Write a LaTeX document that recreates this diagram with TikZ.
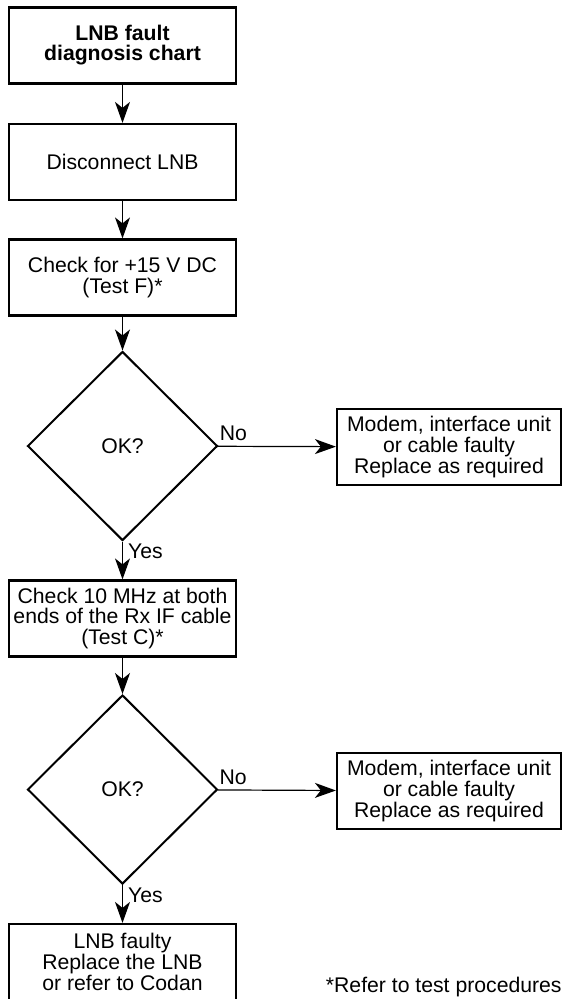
\documentclass[tikz,border=0pt]{standalone}
\usepackage{fontspec}
\setmainfont{Liberation Sans}
\usetikzlibrary{shapes.geometric}
\usetikzlibrary{arrows.meta}

\begin{document}
\begin{tikzpicture}[x=.5pt, y=-.5pt,
        font=\fontsize{10.6}{10.4}\selectfont,
        box/.style={draw, line width=1.1pt, minimum width=113.5pt, minimum height=38pt, align=center, inner sep=0pt},
        sidebox/.style={box, minimum width=112pt},
        query/.style={draw, diamond, line width=1pt, minimum width=95pt, minimum height=94.5pt, inner sep=0pt},
        flow/.style={-{Stealth[length=10.5pt, width=7.5pt, inset=3pt]}, line width=.6pt},
        yestag/.style={anchor=north west, inner xsep=2.5pt, inner ysep=1pt},
        notag/.style={anchor=south west, inner xsep=.5pt, inner ysep=2.5pt}]
    \useasboundingbox (0,0) rectangle (563,999);
    \node[box, font={\fontsize{10.6}{10}\selectfont\bfseries}] (title) at (122.5,45.5) {LNB fault\\diagnosis chart};
    \node[box] (unplug) at (122.5,162) {Disconnect LNB};
    \node[box] (volts) at (122.5,277.5) {Check for +15 V DC\\(Test F)*};
    \node[query] (okA) at (122.5,446) {OK?};
    \node[sidebox] (faultA) at (449,447) {Modem, interface unit\\or cable faulty\\Replace as required};
    \node[box] (clock) at (122.5,618.5) {Check 10 MHz at both\\ends of the Rx IF cable\\(Test C)*};
    \node[query] (okB) at (122.5,789.5) {OK?};
    \node[sidebox] (faultB) at (449,791) {Modem, interface unit\\or cable faulty\\Replace as required};
    \node[box] (lnb) at (122.5,962) {LNB faulty\\Replace the LNB\\or refer to Codan};
    \node[anchor=east, inner sep=0pt] (note) at (562,987) {*Refer to test procedures};
    \draw[flow] (title) -- (unplug);
    \draw[flow] (unplug) -- (volts);
    \draw[flow] (volts) -- (okA);
    \draw[flow] (okA) -- (faultA) node[notag, pos=0] {No};
    \draw[flow] (okA) -- (clock) node[yestag, pos=0] {Yes};
    \draw[flow] (clock) -- (okB);
    \draw[flow] (okB) -- (faultB) node[notag, pos=0] {No};
    \draw[flow] (okB) -- (lnb) node[yestag, pos=0] {Yes};
\end{tikzpicture}
\end{document}
